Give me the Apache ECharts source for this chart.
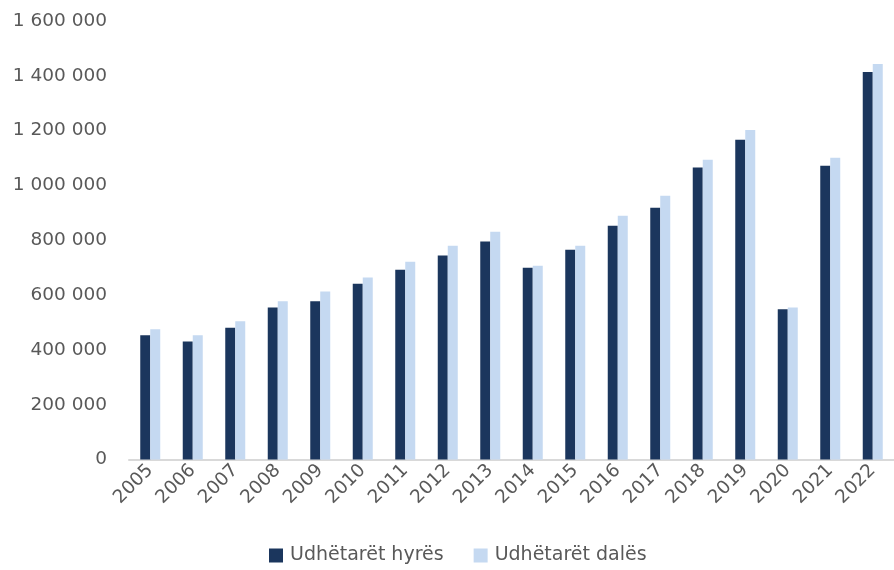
<!DOCTYPE html>
<html>
<head>
<meta charset="utf-8">
<script src="https://cdn.jsdelivr.net/npm/echarts@6/dist/echarts.min.js"></script>
<style>html,body{margin:0;padding:0;background:#fff}#c{width:894px;height:570px}</style>
</head>
<body>
<div id="c"></div>
<script>
var years = ['2005','2006','2007','2008','2009','2010','2011','2012','2013','2014','2015','2016','2017','2018','2019','2020','2021','2022'];
var hyres = [453000,431000,481000,555000,577000,641000,692000,744000,795000,700000,765000,853000,919000,1065000,1167000,548000,1072000,1414000];
var dales = [475000,453000,504000,577000,613000,664000,722000,780000,831000,707000,780000,889000,962000,1094000,1202000,555000,1101000,1443000];
var seriesNames = ['Udhëtarët hyrës','Udhëtarët dalës'];

var chart = echarts.init(document.getElementById('c'), null, {renderer:'canvas'});
var font = 'DejaVu Sans';
function fmt(v){ return String(v).replace(/\B(?=(\d{3})+(?!\d))/g,' '); }
chart.setOption({
  animation:false,
  backgroundColor:'#fff',
  grid:{left:129, right:-9, top:21, bottom:110.5, containLabel:false},
  legend:{
    bottom:0, left:264, itemWidth:14, itemHeight:14, itemGap:30,
    icon:'rect',
    textStyle:{fontFamily:font, fontSize:19, color:'#595959', padding:[0,0,0,2]},
    data:seriesNames
  },
  xAxis:{
    type:'category', data:years,
    axisLine:{lineStyle:{color:'#D9D9D9', width:2}},
    axisTick:{show:false},
    axisLabel:{rotate:45, fontFamily:font, fontSize:18.5, color:'#595959', margin:8, interval:0}
  },
  yAxis:{
    type:'value', min:0, max:1600000, interval:200000,
    splitLine:{show:false}, axisLine:{show:false}, axisTick:{show:false},
    axisLabel:{formatter:fmt, fontFamily:font, fontSize:18.5, color:'#595959', margin:22}
  },
  series:[
    {name:seriesNames[0], type:'bar', data:hyres, barWidth:10, barGap:'0%', itemStyle:{color:'#1B365D'}},
    {name:seriesNames[1], type:'bar', data:dales, barWidth:10, itemStyle:{color:'#C5D9F1'}}
  ]
});
</script>
</body>
</html>
